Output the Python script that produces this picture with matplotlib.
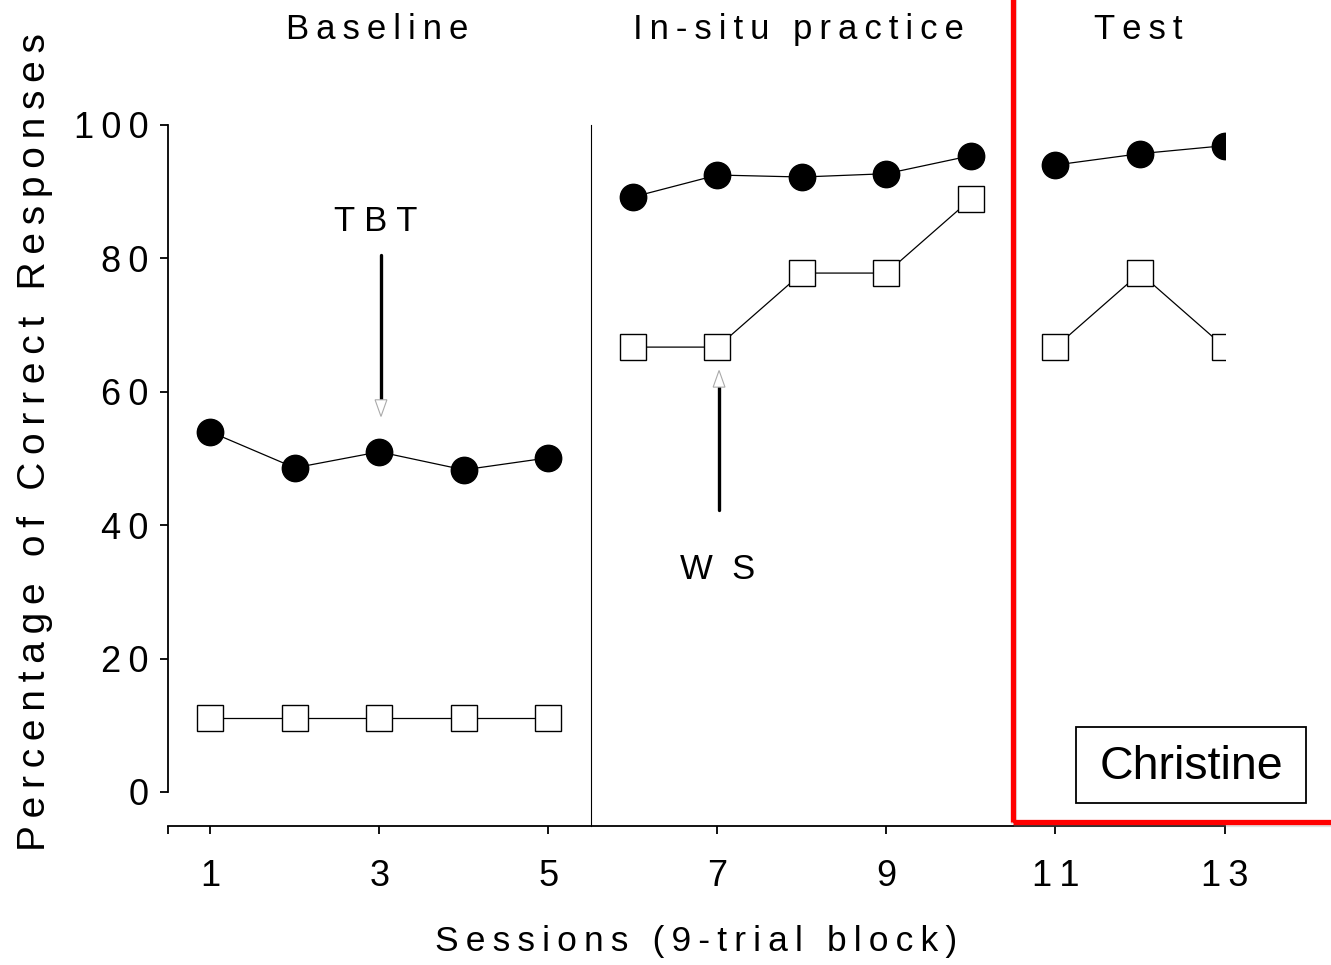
import matplotlib
matplotlib.use('Agg')
import matplotlib.pyplot as plt
from matplotlib.patches import Rectangle, Polygon

plt.rcParams['font.family'] = ['Liberation Sans', 'DejaVu Sans']

# phase data (percentage correct per 9-trial block)
baseline_sessions = [1, 2, 3, 4, 5]
practice_sessions = [6, 7, 8, 9, 10]
test_sessions = [11, 12, 13]

baseline_filled = [54.0, 48.6, 51.0, 48.3, 50.1]
practice_filled = [89.2, 92.5, 92.2, 92.7, 95.4]
test_filled = [94.0, 95.7, 96.9]

baseline_open = [11.1, 11.1, 11.1, 11.1, 11.1]
practice_open = [66.7, 66.7, 77.8, 77.8, 88.9]
test_open = [66.7, 77.8, 66.7]

phase_names = ['Baseline', 'In-situ practice', 'Test']
phase_centers = [2.98, 7.96, 11.98]
phase_breaks = [5.5, 10.5]

xticks = [1, 3, 5, 7, 9, 11, 13]
yticks = [0, 20, 40, 60, 80, 100]

SP = '\u2009'


def spaced(s, sep=SP):
    return sep.join(s)


W, H = 1331, 965
fig = plt.figure(figsize=(W / 100, H / 100), dpi=100)
ax = fig.add_axes([168 / W, (H - 826) / H, (1224.5 - 168) / W, (826 - 58.3) / H])
ax.set_xlim(0.5, 13)
ax.set_ylim(-5.1, 110)

line_kw = dict(color='black', lw=0.9, zorder=3)
for xs, ys in [(baseline_sessions, baseline_open), (practice_sessions, practice_open),
               (test_sessions, test_open)]:
    ax.plot(xs, ys, marker='s', ms=19, mfc='white', mec='black', mew=1.0, **line_kw)
for xs, ys in [(baseline_sessions, baseline_filled), (practice_sessions, practice_filled),
               (test_sessions, test_filled)]:
    ax.plot(xs, ys, marker='o', ms=19, mfc='black', mec='black', mew=1.0, **line_kw)

# phase change line
ax.plot([phase_breaks[0], phase_breaks[0]], [-5.1, 100], color='black', lw=0.8, clip_on=False)

# spines and ticks
for side in ['top', 'right']:
    ax.spines[side].set_visible(False)
ax.spines['left'].set_bounds(0, 100)
ax.spines['left'].set_linewidth(1.3)
ax.spines['bottom'].set_linewidth(1.3)
ax.set_yticks(yticks)
ax.set_yticklabels([spaced(str(v)) for v in yticks])
ax.set_xticks([0.5] + xticks)
ax.set_xticklabels([''] + [spaced(str(v)) for v in xticks])
ax.tick_params(axis='y', direction='out', length=6, width=1.3, pad=8, labelsize=26)
ax.tick_params(axis='x', direction='out', length=6, width=1.3, pad=18, labelsize=26)

ax.set_xlabel(spaced('Sessions (9-trial block)'), fontsize=25.5, labelpad=22)
ax.set_ylabel(spaced('Percentage of Correct Responses'), fontsize=28, labelpad=15)

# phase titles
for name, cx in zip(phase_names, phase_centers):
    ax.text(cx, 114.3, spaced(name), fontsize=25, ha='center', va='center', clip_on=False)


# annotation arrows: black shaft, hollow grey head
def arrow(x, y0, y1, head_len=2.5, half_w=0.07):
    d = 1 if y1 > y0 else -1
    ax.plot([x, x], [y0, y1], color='black', lw=2.4, solid_capstyle='round', zorder=4)
    head = Polygon([[x - half_w, y1], [x + half_w, y1], [x, y1 + d * head_len]],
                   closed=True, facecolor='white', edgecolor='#aaaaaa', lw=0.8, zorder=4)
    ax.add_patch(head)


arrow(3.02, 80.5, 58.8)
arrow(7.02, 42.3, 60.7)
ax.text(2.96, 85.6, spaced('TBT', ' '), fontsize=25, ha='center', va='center')
ax.text(7.0, 33.3, 'W  S', fontsize=25, ha='center', va='center')

# red frame around test phase (extends past the figure edges)
fig.add_artist(Rectangle((1013 / W + 0.001, (H - 822) / H - 0.002), 1.0, 1.0,
                         transform=fig.transFigure, fill=False, edgecolor='#888888',
                         lw=4.5, alpha=0.25))
fig.add_artist(Rectangle((1013 / W, (H - 822) / H), 1.0, 1.0, transform=fig.transFigure,
                         fill=False, edgecolor='#ff0000', lw=3.8))

# participant label
fig.add_artist(Rectangle((1076 / W, (H - 803) / H), 230 / W, 76 / H, transform=fig.transFigure,
                         fill=False, edgecolor='black', lw=1.3))
fig.text(1191 / W, 1 - 767 / H, 'Christine', fontsize=33.5, ha='center', va='center')

fig.savefig('out.png', dpi=100)
